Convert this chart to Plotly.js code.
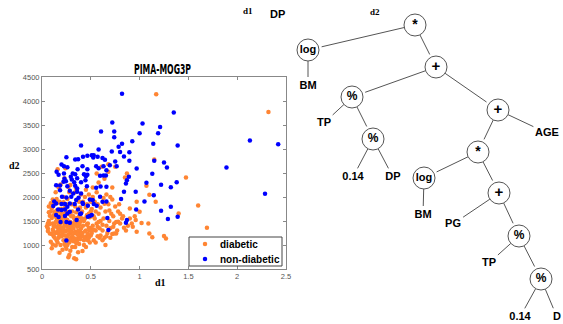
<!DOCTYPE html>
<html><head><meta charset="utf-8">
<script src="https://cdn.plot.ly/plotly-3.0.1.min.js"></script>
<style>html,body{margin:0;padding:0;background:#fff}#chart{width:563px;height:324px}</style>
</head><body><div id="chart"></div>
<script>
// ---- scatter data (d1, d2) ----
const diabetic = [
[1.17,4139],[2.32,3772],[1.15,2780],[1.475,2406],[1.6,1824],[1.69,1360],[1.40,1658],[1.165,1900],[1.07,2233],[1.10,2046],
[1.13,1159],[1.25,1186],[1.27,1138],[1.10,1242],[1.02,1457],[1.09,1450],[0.97,1276],[0.95,1600],[0.96,1519],[1.0,1692],
[0.87,2490],[0.85,2406],[0.97,1900],[0.90,1762],[0.83,1600],[0.78,1484],[0.84,1360],[0.76,1242],
[0.06,1350],[0.07,1800],[0.08,1240],[0.05,1390],[0.09,1070],[0.10,930],[0.07,1500],[0.08,1610],[0.11,1450],[0.09,1700],
[0.12,1180],[0.06,1290],[0.10,1560],[0.11,1320],[0.08,1440],[0.12,1620],[0.10,1230],[0.07,1680],[0.11,1010],[0.09,1870],
[0.12,1380],[0.10,1760],[0.06,1450],[0.12,1280],[0.11,1950],
[0.13,1400],[0.14,1250],[0.15,1100],[0.16,1520],[0.17,1330],[0.18,1200],[0.19,1450],[0.14,1600],[0.15,1720],[0.16,1050],
[0.17,1150],[0.18,1600],[0.19,1300],[0.13,1850],[0.14,1480],[0.15,1380],[0.16,1280],[0.17,1700],[0.18,840],[0.19,1000],
[0.2,1350],[0.13,1150],[0.15,1550],[0.17,1450],[0.19,1750],[0.14,990],[0.16,1880],[0.18,1400],[0.2,1520],[0.2,1180],
[0.15,1960],[0.17,1240],[0.19,1580],[0.13,1690],[0.16,1380],[0.18,1290],[0.2,1650],[0.14,2100],[0.17,2200],[0.16,2580],[0.18,1900],
[0.21,1250],[0.22,1100],[0.23,1400],[0.24,1550],[0.25,1300],[0.26,1180],[0.27,1450],[0.28,1050],[0.29,1350],[0.3,1600],
[0.21,1480],[0.22,1650],[0.23,1200],[0.24,980],[0.25,1700],[0.26,1380],[0.27,743],[0.28,790],[0.29,1250],[0.3,1150],
[0.21,1750],[0.22,1330],[0.23,1580],[0.24,1280],[0.25,1120],[0.26,1520],[0.27,1300],[0.28,1640],[0.29,1480],[0.3,1380],
[0.21,900],[0.22,1890],[0.23,1020],[0.24,1420],[0.25,1850],[0.26,1000],[0.27,1220],[0.28,1420],[0.29,1120],[0.3,1280],
[0.22,2000],[0.24,1800],[0.26,1960],[0.28,2100],[0.3,1850],[0.23,2390],[0.27,2210],[0.25,920],[0.29,880],[0.21,1360],
[0.31,1200],[0.32,1350],[0.33,722],[0.35,701],[0.34,1500],[0.35,1250],[0.36,1100],[0.37,1400],[0.38,1600],[0.39,1300],
[0.4,1180],[0.31,1450],[0.32,1080],[0.33,1550],[0.34,1280],[0.35,1680],[0.36,1380],[0.37,1150],[0.38,1020],[0.39,1480],
[0.4,1350],[0.31,1700],[0.32,1600],[0.33,1250],[0.34,960],[0.35,1450],[0.36,1560],[0.37,1290],[0.38,1230],[0.39,1780],
[0.4,1560],[0.32,1850],[0.34,1800],[0.36,1950],[0.38,1900],[0.4,2050],[0.33,1140],[0.35,1040],[0.37,850],[0.39,1120],
[0.31,960],[0.36,1230],[0.38,1420],[0.34,2100],[0.33,1420],
[0.41,1250],[0.415,874],[0.42,1400],[0.43,1100],[0.44,1550],[0.45,1300],[0.46,1180],[0.47,1450],[0.48,1650],[0.49,1050],
[0.5,1350],[0.41,1700],[0.42,1180],[0.43,1500],[0.44,1280],[0.45,1780],[0.46,1420],[0.47,1230],[0.48,1360],[0.49,1580],
[0.5,1200],[0.42,1900],[0.44,2000],[0.46,1850],[0.48,2050],[0.5,1900],[0.43,1000],[0.45,960],[0.47,1100],[0.49,1300],
[0.41,1520],[0.46,1620],[0.44,1140],[0.5,1700],[0.48,1150],
[0.51,1250],[0.52,1400],[0.53,1100],[0.54,1550],[0.55,1300],[0.56,1450],[0.57,1180],[0.58,1650],[0.59,1350],[0.6,1500],
[0.51,1750],[0.53,1600],[0.55,1050],[0.57,1850],[0.59,1150],[0.52,2000],[0.54,1900],[0.56,2100],[0.58,1480],[0.6,1780],
[0.56,2490],[0.53,1320],[0.55,1700],[0.57,1380],[0.6,1200],
[0.61,2628],[0.62,1300],[0.63,1550],[0.64,1150],[0.65,1700],[0.66,1400],[0.67,1250],[0.68,1850],[0.69,1500],[0.7,1350],
[0.71,1650],[0.72,1230],[0.73,1600],[0.74,1450],[0.75,1800],[0.68,2524],[0.68,2684],[0.75,2628],[0.7,2000],[0.72,1950],
[0.62,1100],[0.65,1000],[0.66,2050],[0.78,1700],[0.8,1650],[0.76,1480],[0.64,1860],
[0.62,1420],[0.66,1180],[0.7,1150],[0.73,1380],[0.77,1300],[0.8,1450],[0.82,1550],[0.79,1850],[0.88,1400],[0.92,1450],
[0.86,1300],[0.74,1240],[0.69,1720],[0.63,1980],[0.58,2300],[0.52,2200],[0.45,2150],[0.19,2260],[0.24,2600],[0.29,2250],
[0.35,2180],[0.64,2380],[0.72,2200],[0.9,1550],[0.93,1380]
];
const nonDiabetic = [
[0.82,4150],[1.35,3760],[0.72,3550],[1.03,3530],[0.605,3363],[0.74,3363],[0.74,3245],[1.21,3460],[1.19,3330],[1.0,3330],
[1.14,3107],[1.39,3072],[0.925,3160],[0.82,3107],[0.785,3045],[0.40,3072],[0.58,2990],[0.715,2947],[0.80,2940],[0.895,2933],
[2.13,3175],[2.42,3100],[1.89,2614],[2.285,2067],[1.15,2753],[1.25,2718],[1.28,2614],[1.13,2482],[1.07,2295],[1.22,2254],
[1.32,2205],[1.38,2309],[1.145,2039],[1.05,1907],[1.22,1713],[1.32,1796],[1.29,1540],[1.39,1588],[0.97,2593],[0.89,2420],
[0.86,2281],[0.84,2108],[0.81,1956],[0.96,2108],[0.965,1741],[0.87,1519],[0.86,1464],[0.68,1311],[0.87,2350],[0.75,2740],
[0.765,2640],[0.84,2843],[0.895,2753],
[0.25,2830],[0.20,2677],[0.225,2642],[0.26,2621],[0.34,2781],[0.37,2788],[0.42,2836],[0.465,2857],[0.51,2871],[0.525,2823],
[0.53,2871],[0.57,2836],[0.62,2815],[0.645,2774],[0.365,2580],[0.415,2642],[0.465,2580],[0.555,2642],[0.58,2600],[0.63,2642],
[0.66,2559],[0.695,2663],[0.15,2524],[0.17,2462],[0.225,2490],[0.315,2490],[0.34,2476],[0.36,2392],[0.43,2476],[0.45,2434],
[0.465,2462],[0.595,2441],[0.63,2448],[0.655,2448],[0.23,2379],[0.22,2316],[0.245,2330],[0.295,2420],[0.305,2365],[0.33,2309],
[0.40,2309],[0.445,2350],[0.145,2247],[0.185,2240],[0.26,2226],[0.34,2233],[0.36,2178],[0.46,2226],[0.555,2191],[0.60,2219],
[0.66,2212],[0.185,2143],[0.285,2129],[0.32,2074],[0.36,2108],[0.40,2074],[0.205,2004],[0.25,1990],[0.30,2004],[0.35,1935],
[0.375,1983],[0.415,1880],[0.49,1949],[0.52,1935],[0.595,2004],[0.62,1900],[0.66,1907],[0.125,1907],[0.145,1866],[0.20,1852],
[0.235,1852],[0.26,1796],[0.285,1866],[0.335,1852],[0.42,1852],[0.47,1817],[0.53,1852],[0.56,1817],[0.115,1810],[0.165,1741],
[0.20,1727],[0.235,1741],[0.26,1658],[0.285,1692],[0.37,1741],[0.39,1644],[0.40,1658],[0.49,1602],[0.51,1623],[0.67,1560],
[0.145,1623],[0.17,1581],[0.235,1602],[0.25,1478],[0.285,1464],[0.47,1588],[0.25,1096],[0.355,1519],[0.19,1478]
];
const seriesNames = ['diabetic', 'non-diabetic'];
const seriesColors = ['#ff8533', '#0000ff'];
const xTicks = [0, 0.5, 1, 1.5, 2, 2.5];
const xTickText = ['0', '0.5', '1', '1.5', '2', '2.5'];
const yTicks = [500, 1000, 1500, 2000, 2500, 3000, 3500, 4000, 4500];
const chartTitle = 'PIMA-MOG3P';

// ---- expression tree (positions in page pixels) ----
const nodeLabels = ['*','log','BM','+','%','TP','%','0.14','DP','+','AGE','*','log','BM','+','PG','%','TP','%','0.14','D'];
const nodeX = [415,308,308,436,352,324,373,353,393,498,547,478,424,423,499,453,519,489,541,520,557];
const nodeY = [25,50,86,67,97,123,139,177,177,110,133,152,178,215,193,224,236,263,279,317,317];
const nodeIsOp = [1,1,0,1,1,0,1,0,0,1,0,1,1,0,1,0,1,0,1,0,0];
const edges = [[0,1],[1,2],[0,3],[3,4],[4,5],[4,6],[6,7],[6,8],[3,9],[9,11],[9,10],[11,12],[12,13],[11,14],[14,15],[14,16],[16,17],[16,18],[18,19],[18,20]];

const W = 563, H = 324;
const R = 11;
const ex = [], ey = [];
edges.forEach(([p, c]) => {
  const dx = nodeX[c] - nodeX[p], dy = nodeY[c] - nodeY[p];
  const L = Math.hypot(dx, dy), ux = dx / L, uy = dy / L;
  let tc;
  if (nodeIsOp[c]) tc = R + 3;
  else {
    const hw = nodeLabels[c].length * 3.3 + 1, hh = 6;
    const tx = Math.abs(ux) > 1e-6 ? hw / Math.abs(ux) : 1e9;
    const ty = Math.abs(uy) > 1e-6 ? hh / Math.abs(uy) : 1e9;
    tc = Math.min(tx, ty) + 3;
  }
  const tp = R;
  ex.push(nodeX[p] + ux * tp, nodeX[c] - ux * tc, null);
  ey.push(nodeY[p] + uy * tp, nodeY[c] - uy * tc, null);
});
const opIdx = nodeLabels.map((_, i) => i).filter(i => nodeIsOp[i]);
const leafIdx = nodeLabels.map((_, i) => i).filter(i => !nodeIsOp[i]);

const SANS = 'Liberation Sans, Arial, sans-serif';
const sansB = {family: SANS, size: 11, color: '#000', weight: 'bold'};
const opSizes = {'*': 14, '+': 15, '%': 12, 'log': 11};
const opFont = {family: SANS, size: opIdx.map(i => opSizes[nodeLabels[i]]), color: '#000', weight: 'bold'};

// custom legend box (page pixels)
const legBox = {x0: 189, y0: 237, x1: 282, y1: 266};
const legRowY = [244, 259];
const legSwatchX = 205, legTextX = 218;

const traces = [
  {x: diabetic.map(d => d[0]), y: diabetic.map(d => d[1]), type: 'scatter', mode: 'markers', name: seriesNames[0],
   marker: {color: seriesColors[0], size: 4.5}, xaxis: 'x', yaxis: 'y', showlegend: false},
  {x: nonDiabetic.map(d => d[0]), y: nonDiabetic.map(d => d[1]), type: 'scatter', mode: 'markers', name: seriesNames[1],
   marker: {color: seriesColors[1], size: 4.5}, xaxis: 'x', yaxis: 'y', showlegend: false},
  {x: ex, y: ey, type: 'scatter', mode: 'lines', line: {color: '#555', width: 1}, xaxis: 'x2', yaxis: 'y2', showlegend: false},
  {x: opIdx.map(i => nodeX[i]), y: opIdx.map(i => nodeY[i]), text: opIdx.map(i => nodeLabels[i]),
   type: 'scatter', mode: 'markers+text', textposition: 'middle center', textfont: opFont,
   marker: {size: 22, color: '#fff', line: {color: '#555', width: 1}}, xaxis: 'x2', yaxis: 'y2', showlegend: false},
  {x: leafIdx.map(i => nodeX[i]), y: leafIdx.map(i => nodeY[i]), text: leafIdx.map(i => nodeLabels[i]),
   type: 'scatter', mode: 'text', textposition: 'middle center', textfont: sansB,
   xaxis: 'x2', yaxis: 'y2', showlegend: false},
  {x: [legSwatchX, legSwatchX], y: legRowY, type: 'scatter', mode: 'markers',
   marker: {color: seriesColors, size: 4.5}, xaxis: 'x2', yaxis: 'y2', showlegend: false}
];

const tickFont = {family: SANS, size: 7.5, color: '#555'};
const annotations = [
  {text: chartTitle, xref: 'paper', yref: 'paper', x: 162 / W, y: (H - 79) / H, xanchor: 'center', yanchor: 'bottom',
   showarrow: false, font: {family: 'DejaVu Sans Condensed, Liberation Sans, sans-serif', size: 14, color: '#000', weight: 'bold'}},
  {text: '<b>d1</b>', xref: 'paper', yref: 'paper', x: 160 / W, y: (H - 282) / H, xanchor: 'center', yanchor: 'middle',
   showarrow: false, font: {family: 'Liberation Serif, serif', size: 10, color: '#000'}},
  {text: '<b>d2</b>', xref: 'paper', yref: 'paper', x: 14 / W, y: (H - 165) / H, xanchor: 'center', yanchor: 'middle',
   showarrow: false, font: {family: 'Liberation Serif, serif', size: 10, color: '#000'}},
  {text: '<b>d1</b>', xref: 'paper', yref: 'paper', x: 248 / W, y: (H - 11) / H, xanchor: 'center', yanchor: 'middle',
   showarrow: false, font: {family: 'Liberation Serif, serif', size: 9, color: '#000'}},
  {text: '<b>DP</b>', xref: 'paper', yref: 'paper', x: 277 / W, y: (H - 14) / H, xanchor: 'center', yanchor: 'middle',
   showarrow: false, font: {family: SANS, size: 11, color: '#000'}},
  {text: '<b>d2</b>', xref: 'paper', yref: 'paper', x: 375 / W, y: (H - 12) / H, xanchor: 'center', yanchor: 'middle',
   showarrow: false, font: {family: 'Liberation Serif, serif', size: 9, color: '#000'}}
];
seriesNames.forEach((n, i) => annotations.push({
  text: n, xref: 'x2', yref: 'y2', x: legTextX, y: legRowY[i], xanchor: 'left', yanchor: 'middle', showarrow: false,
  font: {family: SANS, size: 10, color: '#000', weight: 'bold'}
}));

const layout = {
  width: W, height: H, margin: {l: 0, r: 0, t: 0, b: 0},
  paper_bgcolor: '#fff', plot_bgcolor: 'rgba(0,0,0,0)',
  showlegend: false,
  xaxis: {domain: [42 / W, 286 / W], range: [0, 2.5], tickvals: xTicks, ticktext: xTickText,
    ticks: 'inside', ticklen: 3, tickcolor: '#888', showline: true, linecolor: '#888', linewidth: 1, mirror: 'ticks',
    showgrid: false, zeroline: false, tickfont: tickFont, anchor: 'y'},
  yaxis: {domain: [(H - 269) / H, (H - 77) / H], range: [500, 4500], tickvals: yTicks,
    ticks: 'inside', ticklen: 3, tickcolor: '#888', showline: true, linecolor: '#888', linewidth: 1, mirror: 'ticks',
    showgrid: false, zeroline: false, tickfont: tickFont, anchor: 'x'},
  xaxis2: {domain: [0, 1], range: [0, W], visible: false, anchor: 'y2', fixedrange: true},
  yaxis2: {domain: [0, 1], range: [H, 0], visible: false, anchor: 'x2', fixedrange: true},
  shapes: [{type: 'rect', xref: 'x2', yref: 'y2', x0: legBox.x0, y0: legBox.y0, x1: legBox.x1, y1: legBox.y1,
    line: {color: '#444', width: 1}, fillcolor: '#fff', layer: 'below'}],
  annotations: annotations
};
Plotly.newPlot('chart', traces, layout, {displayModeBar: false, staticPlot: true}).then(() => {
  document.querySelectorAll('.annotation-text').forEach(t => {
    if (t.textContent === chartTitle) {
      t.setAttribute('textLength', '57');
      t.setAttribute('lengthAdjust', 'spacingAndGlyphs');
    }
  });
});
</script></body></html>
